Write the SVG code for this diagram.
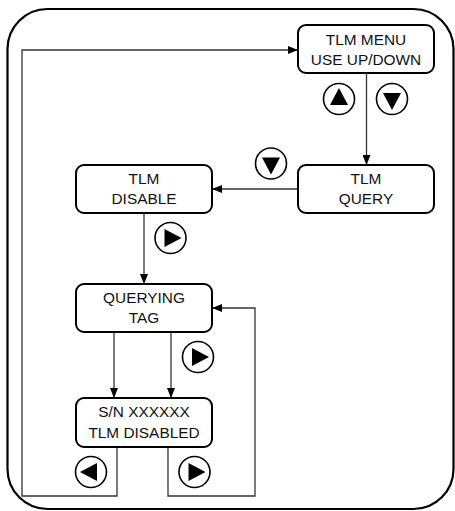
<svg xmlns="http://www.w3.org/2000/svg" xmlns:xlink="http://www.w3.org/1999/xlink" width="455" height="511" viewBox="0 0 455 511">
<style>
.frame{fill:none;stroke:#000;stroke-width:2.2}
.box{fill:#fff;stroke:#000;stroke-width:2}
.lbl{font-family:"Liberation Sans",Arial,sans-serif;font-size:15.4px;fill:#111;text-anchor:middle}
.con{fill:none;stroke:#333;stroke-width:1.3}
.btn circle{fill:#fff;stroke:#000;stroke-width:1.6}
.btn polygon{fill:#000}
</style>
<defs>
<marker id="ah" viewBox="0 0 10 8" refX="10" refY="4" markerWidth="10" markerHeight="8" markerUnits="userSpaceOnUse" orient="auto">
<path d="M0,0 L10,4 L0,8 Z" fill="#000"/>
</marker>
<g id="btn" class="btn"><circle cx="0" cy="0" r="15.5"/><polygon points="-6,-9 -6,9 11,0"/></g>
</defs>
<rect class="frame" x="7.5" y="9" width="446" height="500" rx="40" ry="40"/>
<g id="connectors">
<path class="con" d="M117,447 V496 H22 V50 H298" marker-end="url(#ah)"/>
<path class="con" d="M366.5,73 V165" marker-end="url(#ah)"/>
<path class="con" d="M298,189 H212" marker-end="url(#ah)"/>
<path class="con" d="M144,213 V284" marker-end="url(#ah)"/>
<path class="con" d="M114,332 V398" marker-end="url(#ah)"/>
<path class="con" d="M171,332 V398" marker-end="url(#ah)"/>
<path class="con" d="M168,447 V496 H255 V308 H212" marker-end="url(#ah)"/>
</g>
<g id="buttons">
<use xlink:href="#btn" transform="translate(339,99) rotate(-90)"/>
<use xlink:href="#btn" transform="translate(392,99) rotate(90)"/>
<use xlink:href="#btn" transform="translate(271,163.5) rotate(90)"/>
<use xlink:href="#btn" transform="translate(170.5,238)"/>
<use xlink:href="#btn" transform="translate(198,357)"/>
<use xlink:href="#btn" transform="translate(91,472) rotate(180)"/>
<use xlink:href="#btn" transform="translate(194.5,472)"/>
</g>
<g id="tlm-menu"><rect class="box" x="298" y="25" width="136" height="48" rx="8"/><text class="lbl" x="366" y="45">TLM MENU</text><text class="lbl" x="366" y="65">USE UP/DOWN</text></g>
<g id="tlm-query"><rect class="box" x="298" y="165" width="136" height="48" rx="8"/><text class="lbl" x="366" y="183.5">TLM</text><text class="lbl" x="366" y="204">QUERY</text></g>
<g id="tlm-disable"><rect class="box" x="76" y="165" width="136" height="48" rx="8"/><text class="lbl" x="144" y="183.5">TLM</text><text class="lbl" x="144" y="204">DISABLE</text></g>
<g id="querying-tag"><rect class="box" x="76" y="284" width="136" height="48" rx="8"/><text class="lbl" x="144" y="302.5">QUERYING</text><text class="lbl" x="144" y="323">TAG</text></g>
<g id="sn-disabled"><rect class="box" x="76" y="398" width="136" height="49" rx="8"/><text class="lbl" x="144" y="417">S/N XXXXXX</text><text class="lbl" x="144" y="437.5">TLM DISABLED</text></g>
</svg>
